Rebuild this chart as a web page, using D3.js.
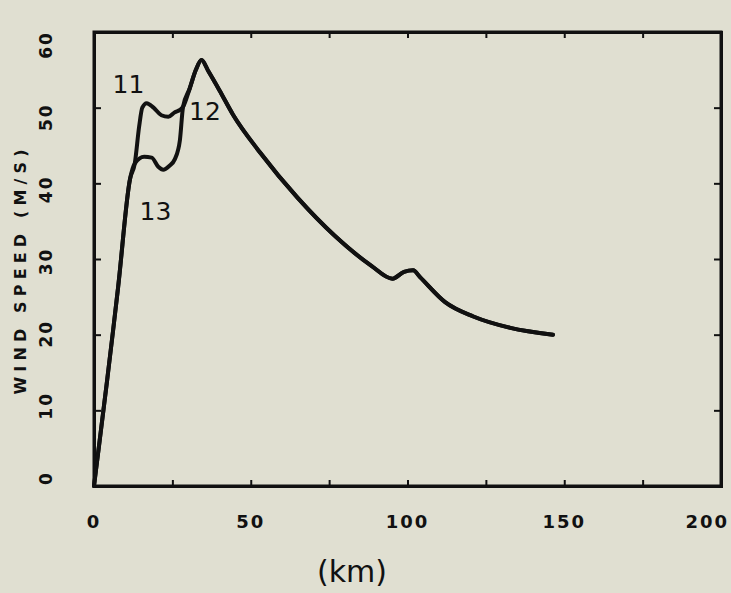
<!DOCTYPE html>
<html>
<head>
<meta charset="utf-8">
<script src="https://cdn.jsdelivr.net/npm/d3@7"></script>
<style>
  body { margin: 0; background: #e0dfd1; }
  text { fill: #111; }
</style>
</head>
<body>
<div id="chart"></div>
<script>
// distance (km) and wind speed (m/s)
const curve13 = [
  [0, 0], [0.6, 2], [4.2, 14], [6.1, 20.6], [7.7, 26.3], [11.5, 40.6], [13, 42.6],
  [16, 43.5], [18.4, 43.4], [20.5, 42.2], [22.1, 41.8], [24, 42.3], [25.8, 43.2],
  [27.4, 45.7], [28.4, 50.1], [30.5, 52.5], [32.5, 55], [34.3, 56.3], [36.5, 54.8],
  [40, 52.3], [44.3, 49.1], [53.1, 44], [64.9, 38.1], [76.7, 33.1], [88.5, 29.1],
  [95.2, 27.4], [98.9, 28.3], [101.8, 28.5], [104, 27.6], [112, 24.3], [121, 22.4],
  [132.8, 20.9], [146.4, 20]
];
const curve11 = [
  [0, 0], [0.6, 2], [4.2, 14], [6.1, 20.6], [7.7, 26.3], [11.5, 40.6], [13, 42.6],
  [14.4, 47.5], [15.4, 50], [16.8, 50.6], [19, 50], [21.5, 49], [23.7, 48.8],
  [25.8, 49.4], [27.4, 49.7], [28.4, 50.1], [30.5, 52.5], [32.5, 55], [34.3, 56.3],
  [36.5, 54.8], [40, 52.3], [44.3, 49.1], [53.1, 44], [64.9, 38.1], [76.7, 33.1],
  [88.5, 29.1], [95.2, 27.4], [98.9, 28.3], [101.8, 28.5], [104, 27.6], [112, 24.3],
  [121, 22.4], [132.8, 20.9], [146.4, 20]
];
const curveLabels = [
  { text: "11", km: 11, v: 52 },
  { text: "12", km: 35.4, v: 48.4 },
  { text: "13", km: 19.6, v: 35.2 }
];
const xTickLabels = [0, 50, 100, 150, 200];
const xMinorTicks = [0, 25, 50, 75, 100, 125, 150, 175, 200];
const yTicks = [0, 10, 20, 30, 40, 50, 60];

const W = 731, H = 593;
const svg = d3.select("#chart").append("svg")
  .attr("width", W).attr("height", H);

svg.append("rect").attr("width", W).attr("height", H).attr("fill", "#e0dfd1");

const x = d3.scaleLinear().domain([0, 200]).range([94, 721]);
const y = d3.scaleLinear().domain([0, 60]).range([486, 32]);
// the printed numbers sit a bit tighter than the ticks on the scan
const yLab = d3.scaleLinear().domain([0, 60]).range([478, 45]);

// axes with inward ticks on all four sides
svg.append("g").attr("transform", "translate(0,486)")
  .call(d3.axisBottom(x).tickValues(xMinorTicks).tickSize(-6).tickFormat(""));
svg.append("g").attr("transform", "translate(0,32)")
  .call(d3.axisTop(x).tickValues(xMinorTicks).tickSize(-6).tickFormat(""));
svg.append("g").attr("transform", "translate(94,0)")
  .call(d3.axisLeft(y).tickValues(yTicks).tickSize(-7).tickFormat(""));
svg.append("g").attr("transform", "translate(721,0)")
  .call(d3.axisRight(y).tickValues(yTicks).tickSize(-7).tickFormat(""));

svg.selectAll(".domain").attr("stroke", "#111").attr("stroke-width", 3);
svg.selectAll(".tick line").attr("stroke", "#111").attr("stroke-width", 2);

// frame
svg.append("rect")
  .attr("x", x(0)).attr("y", y(60))
  .attr("width", x(200) - x(0)).attr("height", y(0) - y(60))
  .attr("fill", "none").attr("stroke", "#111").attr("stroke-width", 3);

// tick labels
svg.selectAll(".xlab").data(xTickLabels).enter().append("text")
  .attr("x", d => d === 200 ? 729 : x(d)).attr("y", 528)
  .attr("text-anchor", d => d === 200 ? "end" : "middle")
  .style("font-family", "DejaVu Sans").style("font-weight", "bold").style("font-size", "18px")
  .style("letter-spacing", "2px")
  .text(d => d);

svg.selectAll(".ylab").data(yTicks).enter().append("text")
  .attr("transform", d => "translate(52," + yLab(d) + ") rotate(-90)")
  .attr("text-anchor", "middle")
  .style("font-family", "DejaVu Sans").style("font-weight", "bold").style("font-size", "17px")
  .style("letter-spacing", "2px")
  .text(d => d);

// axis titles
svg.append("text")
  .attr("transform", "translate(26,272) rotate(-90)")
  .attr("text-anchor", "middle")
  .attr("textLength", 245).attr("lengthAdjust", "spacing")
  .style("font-family", "DejaVu Sans").style("font-weight", "bold").style("font-size", "16px")
  .text("WIND SPEED (M/S)");

svg.append("text")
  .attr("x", 352).attr("y", 582)
  .attr("text-anchor", "middle")
  .style("font-family", "DejaVu Sans").style("font-size", "30px")
  .text("(km)");

// curves
const line = d3.line()
  .x(d => x(d[0]))
  .y(d => y(d[1]))
  .curve(d3.curveMonotoneX);

svg.selectAll(".curve").data([curve11, curve13]).enter().append("path")
  .attr("d", d => line(d))
  .attr("fill", "none")
  .attr("stroke", "#111")
  .attr("stroke-width", 4)
  .attr("stroke-linejoin", "round")
  .attr("stroke-linecap", "round");

svg.selectAll(".clab").data(curveLabels).enter().append("text")
  .attr("x", d => x(d.km)).attr("y", d => y(d.v))
  .attr("text-anchor", "middle")
  .style("font-family", "DejaVu Sans").style("font-size", "25px")
  .text(d => d.text);
</script>
</body>
</html>
